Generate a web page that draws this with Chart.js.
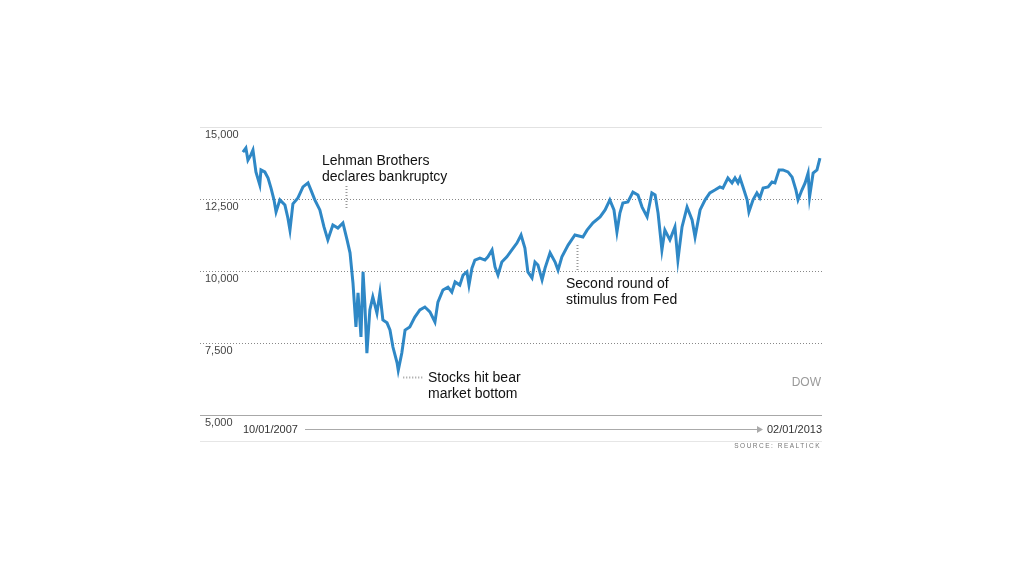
<!DOCTYPE html>
<html>
<head>
<meta charset="utf-8">
<script src="https://cdn.jsdelivr.net/npm/chart.js@4.4.1/dist/chart.umd.min.js"></script>
<style>
  html, body { margin: 0; padding: 0; background: #fff; }
  #wrap { width: 1024px; height: 576px; }
</style>
</head>
<body>
<div id="wrap"><canvas id="dowChart" width="1024" height="576"></canvas></div>
<script>
// DOW CLOSE
const dates = [
  '2007-10-01','2007-10-11','2007-10-18','2007-10-28','2007-11-04','2007-11-14','2007-11-27','2007-12-01',
  '2007-12-14','2007-12-25','2008-01-04','2008-01-14','2008-01-21','2008-02-03','2008-02-20','2008-03-01',
  '2008-03-08','2008-03-18','2008-04-04','2008-04-21','2008-05-08','2008-05-18','2008-05-31','2008-06-17',
  '2008-07-01','2008-07-14','2008-07-31','2008-08-17','2008-09-03','2008-09-17','2008-09-27','2008-10-07',
  '2008-10-17','2008-10-24','2008-11-03','2008-11-10','2008-11-16','2008-11-23','2008-12-03','2008-12-13',
  '2008-12-27','2009-01-06','2009-01-16','2009-01-30','2009-02-09','2009-02-19','2009-03-05','2009-03-09',
  '2009-03-21','2009-04-01','2009-04-17','2009-05-04','2009-05-21','2009-06-07','2009-06-24','2009-07-11',
  '2009-07-21','2009-08-07','2009-08-24','2009-09-06','2009-09-17','2009-10-03','2009-10-14','2009-10-27',
  '2009-11-03','2009-11-13','2009-11-23','2009-12-10','2009-12-27','2010-01-06','2010-01-20','2010-01-30',
  '2010-02-09','2010-02-22','2010-03-11','2010-03-28','2010-04-14','2010-04-28','2010-05-11','2010-05-21',
  '2010-06-04','2010-06-14','2010-06-24','2010-07-08','2010-07-18','2010-08-04','2010-08-21','2010-08-31',
  '2010-09-13','2010-10-04','2010-10-27','2010-11-23','2010-12-07','2010-12-27','2011-01-20','2011-02-06',
  '2011-02-22','2011-03-08','2011-03-18','2011-03-28','2011-04-07','2011-04-24','2011-05-11','2011-05-28',
  '2011-06-11','2011-06-28','2011-07-14','2011-07-25','2011-08-04','2011-08-17','2011-08-27','2011-09-13',
  '2011-09-30','2011-10-10','2011-10-24','2011-11-10','2011-11-27','2011-12-07','2011-12-24','2012-01-10',
  '2012-01-26','2012-02-12','2012-02-29','2012-03-10','2012-03-27','2012-04-10','2012-04-20','2012-04-30',
  '2012-05-07','2012-05-17','2012-05-31','2012-06-06','2012-06-20','2012-07-03','2012-07-13','2012-07-24',
  '2012-08-10','2012-08-23','2012-09-02','2012-09-16','2012-09-29','2012-10-16','2012-10-30','2012-11-12',
  '2012-11-19','2012-12-02','2012-12-13','2012-12-23','2012-12-28','2013-01-09','2013-01-22','2013-02-01'
];
const dowValues = [
  14130,14270,13850,14030,14200,13440,12990,13510,
  13440,13230,12880,12470,12050,12470,12290,11840,
  11420,12330,12540,12920,13060,12810,12470,12120,
  11530,11080,11600,11490,11670,11080,10630,9580,
  8060,9240,7710,9970,8890,7150,8650,9100,
  8540,9240,8300,8200,7950,7360,6810,6550,
  7150,7950,8060,8400,8650,8750,8580,8230,
  8920,9340,9440,9270,9620,9510,9860,9970,
  9510,10100,10380,10450,10380,10490,10730,10140,
  9860,10310,10490,10730,10970,11250,10800,9970,
  9760,10310,10210,9690,10100,10630,10310,10030,
  10490,10900,11250,11180,11420,11670,11880,12120,
  12470,12120,11350,12010,12360,12400,12740,12640,
  12220,11880,12710,12640,12010,10730,11420,11080,
  11530,10380,11530,12220,11770,11180,12120,12470,
  12710,12810,12920,12880,13230,13060,13230,13060,
  13230,12920,12470,12050,12470,12710,12540,12880,
  12920,13090,13060,13510,13510,13440,13260,12810,
  12470,12810,13060,13400,12570,13400,13510,13920
];

// AXIS
const yTicks = [15000, 12500, 10000, 7500, 5000];
const yTickLabels = ['15,000', '12,500', '10,000', '7,500', '5,000'];
const xRange = ['2007-05-09', '2013-02-08'];
const startLabel = '10/01/2007';
const endLabel = '02/01/2013';

// NOTES
const noteLines = [
  ['Lehman Brothers', 'declares bankruptcy'],
  ['Stocks hit bear', 'market bottom'],
  ['Second round of', 'stimulus from Fed']
];
const noteDates = ['2008-09-12', '2009-03-09', '2010-11-03'];

const t = d => Date.parse(d);
const points = dates.map((d, i) => ({ x: t(d), y: dowValues[i] }));

const FONT = '"Liberation Sans", Arial, sans-serif';

function dotted(ctx, x1, y1, x2, y2) {
  ctx.save();
  ctx.strokeStyle = '#999';
  ctx.lineWidth = 2;
  ctx.setLineDash([1, 2]);
  ctx.beginPath();
  ctx.moveTo(x1, y1);
  ctx.lineTo(x2, y2);
  ctx.stroke();
  ctx.restore();
}

const decor = {
  id: 'decor',
  beforeDatasetsDraw(chart) {
    const ctx = chart.ctx;
    const xs = chart.scales.x, ys = chart.scales.y;
    const left = xs.left, right = xs.right;
    ctx.save();
    yTicks.forEach((v, i) => {
      const y = Math.round(ys.getPixelForValue(v)) + 0.5;
      ctx.beginPath();
      if (i === 0) {
        ctx.strokeStyle = '#e2e2e2'; ctx.lineWidth = 1; ctx.setLineDash([]);
      } else if (i === yTicks.length - 1) {
        ctx.strokeStyle = '#a8a8a8'; ctx.lineWidth = 1; ctx.setLineDash([]);
      } else {
        ctx.strokeStyle = '#888'; ctx.lineWidth = 1; ctx.setLineDash([1, 2]);
      }
      ctx.moveTo(left, y);
      ctx.lineTo(right, y);
      ctx.stroke();
      ctx.setLineDash([]);
      ctx.fillStyle = '#444';
      ctx.font = '11px ' + FONT;
      ctx.textBaseline = 'top';
      ctx.textAlign = 'left';
      ctx.fillText(yTickLabels[i], left + 5, y + 2);
    });
    ctx.restore();
  },
  afterDraw(chart) {
    const ctx = chart.ctx;
    const xs = chart.scales.x, ys = chart.scales.y;
    const left = xs.left, right = xs.right;
    const bottom = ys.getPixelForValue(yTicks[yTicks.length - 1]);
    ctx.save();

    // notes
    ctx.font = '14px ' + FONT;
    ctx.fillStyle = '#111';
    ctx.textBaseline = 'middle';
    ctx.textAlign = 'left';

    const lx = Math.round(xs.getPixelForValue(t(noteDates[0]))) + 0.5;
    dotted(ctx, lx, 186, lx, 208);
    ctx.fillText(noteLines[0][0], 322, 161);
    ctx.fillText(noteLines[0][1], 322, 177);

    const bx = xs.getPixelForValue(t(noteDates[1]));
    dotted(ctx, bx + 5, 377.5, bx + 26, 377.5);
    ctx.fillText(noteLines[1][0], 428, 378);
    ctx.fillText(noteLines[1][1], 428, 394);

    const sx = Math.round(xs.getPixelForValue(t(noteDates[2]))) + 0.5;
    dotted(ctx, sx, 245, sx, 270);
    ctx.fillText(noteLines[2][0], 566, 284);
    ctx.fillText(noteLines[2][1], 566, 300);

    // DOW
    ctx.font = '12px ' + FONT;
    ctx.fillStyle = '#9a9a9a';
    ctx.textAlign = 'right';
    ctx.fillText('DOW', right - 1, 383);

    // date axis with arrow
    const ay = Math.round(bottom) + 14.5;
    ctx.font = '11px ' + FONT;
    ctx.fillStyle = '#333';
    ctx.textAlign = 'left';
    ctx.fillText(startLabel, xs.getPixelForValue(t(dates[0])), ay);
    ctx.textAlign = 'right';
    ctx.fillText(endLabel, right, ay);
    ctx.strokeStyle = '#aaa';
    ctx.lineWidth = 1;
    ctx.beginPath();
    ctx.moveTo(305, ay);
    ctx.lineTo(758, ay);
    ctx.stroke();
    ctx.fillStyle = '#aaa';
    ctx.beginPath();
    ctx.moveTo(757, ay - 3.5);
    ctx.lineTo(763, ay);
    ctx.lineTo(757, ay + 3.5);
    ctx.closePath();
    ctx.fill();

    ctx.strokeStyle = '#e6e6e6';
    ctx.beginPath();
    ctx.moveTo(left, ay + 12);
    ctx.lineTo(right, ay + 12);
    ctx.stroke();

    // source
    ctx.font = '6.5px ' + FONT;
    ctx.fillStyle = '#777';
    ctx.textAlign = 'left';
    const src = 'SOURCE: REALTICK';
    ctx.letterSpacing = '1.5px';
    const w = ctx.measureText(src).width;
    ctx.fillText(src, right - 1 - w, ay + 17);
    ctx.restore();
  }
};

let dowChart = new Chart(document.getElementById('dowChart').getContext('2d'), {
  type: 'line',
  data: {
    datasets: [{
      label: 'DOW',
      data: points,
      borderColor: '#2f88c6',
      borderWidth: 3,
      pointRadius: 0,
      tension: 0,
      fill: false
    }]
  },
  options: {
    responsive: false,
    animation: false,
    layout: { padding: { left: 200, right: 202, top: 127, bottom: 161 } },
    plugins: { legend: { display: false }, tooltip: { enabled: false } },
    scales: {
      x: { type: 'linear', min: t(xRange[0]), max: t(xRange[1]), display: false },
      y: { min: 5000, max: 15000, display: false }
    }
  },
  plugins: [decor]
});
</script>
</body>
</html>
